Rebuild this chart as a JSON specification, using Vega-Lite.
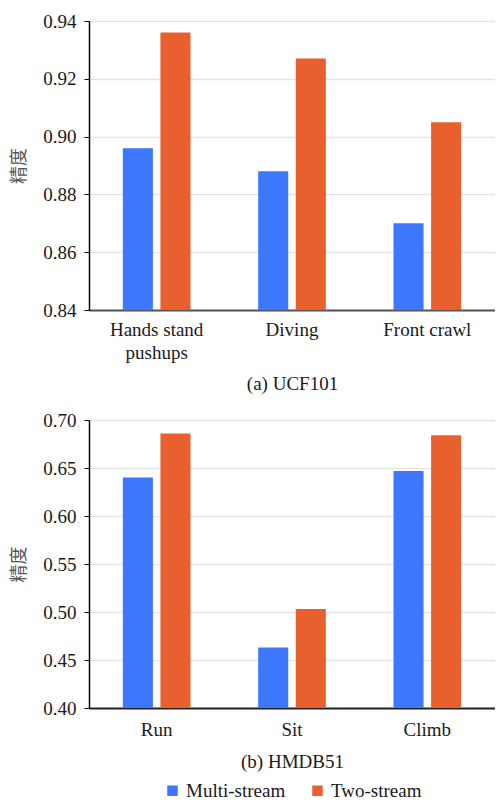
{
  "$schema": "https://vega.github.io/schema/vega-lite/v6.json",
  "padding": {"left": 10, "top": 12, "right": 0, "bottom": 2},
  "datasets": {
    "ucf": [
      {"action": "Hands stand pushups", "method": "Multi-stream", "accuracy": 0.896},
      {"action": "Hands stand pushups", "method": "Two-stream", "accuracy": 0.936},
      {"action": "Diving", "method": "Multi-stream", "accuracy": 0.888},
      {"action": "Diving", "method": "Two-stream", "accuracy": 0.927},
      {"action": "Front crawl", "method": "Multi-stream", "accuracy": 0.870},
      {"action": "Front crawl", "method": "Two-stream", "accuracy": 0.905}
    ],
    "hmdb": [
      {"action": "Run", "method": "Multi-stream", "accuracy": 0.640},
      {"action": "Run", "method": "Two-stream", "accuracy": 0.686},
      {"action": "Sit", "method": "Multi-stream", "accuracy": 0.463},
      {"action": "Sit", "method": "Two-stream", "accuracy": 0.503},
      {"action": "Climb", "method": "Multi-stream", "accuracy": 0.647},
      {"action": "Climb", "method": "Two-stream", "accuracy": 0.684}
    ]
  },
  "config": {
    "view": {"stroke": null},
    "font": "Liberation Serif, Times New Roman, serif",
    "axis": {
      "labelFont": "Liberation Serif, Times New Roman, serif",
      "labelFontSize": 19,
      "labelColor": "#1a1a1a",
      "titleFont": "Liberation Serif, Times New Roman, serif",
      "titleFontSize": 19,
      "titleColor": "#1a1a1a",
      "titleFontWeight": "normal"
    },
    "legend": {
      "layout": {"bottom": {"anchor": "middle"}},
      "labelFont": "Liberation Serif, Times New Roman, serif"
    }
  },
  "spacing": 18,
  "resolve": {"scale": {"color": "shared"}},
  "vconcat": [
    {
      "width": 406,
      "height": 289,
      "data": {"name": "ucf"},
      "mark": {"type": "bar"},
      "encoding": {
        "x": {
          "field": "action",
          "type": "nominal",
          "sort": ["Hands stand pushups", "Diving", "Front crawl"],
          "scale": {"paddingInner": 0.5, "paddingOuter": 0.25},
          "axis": {
            "title": "(a) UCF101",
            "labelAngle": 0,
            "ticks": false,
            "grid": false,
            "domainColor": "#555555",
            "domainWidth": 2,
            "labelPadding": 10,
            "labelLineHeight": 23,
            "labelExpr": "datum.value == 'Hands stand pushups' ? ['Hands stand', 'pushups'] : datum.label",
            "titlePadding": 12
          }
        },
        "xOffset": {
          "field": "method",
          "type": "nominal",
          "sort": ["Multi-stream", "Two-stream"],
          "scale": {"paddingInner": 0.2, "paddingOuter": 0}
        },
        "y": {
          "field": "accuracy",
          "type": "quantitative",
          "scale": {"domain": [0.84, 0.94], "nice": false, "zero": false},
          "axis": {
            "title": "精度",
            "titleFont": "Noto Sans CJK SC",
            "titleFontSize": 18,
            "titleColor": "#555555",
            "titlePadding": 14,
            "values": [0.84, 0.86, 0.88, 0.9, 0.92, 0.94],
            "format": ".2f",
            "domainColor": "#000000",
            "domainWidth": 1.5,
            "tickColor": "#000000",
            "tickSize": 5,
            "labelPadding": 8,
            "gridColor": "#dfe6ea",
            "gridWidth": 1.5
          }
        },
        "y2": {"datum": 0.84},
        "color": {
          "field": "method",
          "type": "nominal",
          "scale": {"domain": ["Multi-stream", "Two-stream"], "range": ["#3c77fe", "#e9602f"]},
          "legend": {
            "orient": "bottom",
            "direction": "horizontal",
            "title": null,
            "symbolType": "square",
            "symbolSize": 110,
            "symbolStrokeWidth": 0,
            "labelFont": "Liberation Serif, Times New Roman, serif",
            "labelFontSize": 19,
            "labelColor": "#1a1a1a",
            "columnPadding": 22,
            "offset": 10,
            "encode": {
              "symbols": {
                "update": {
                  "fill": {"signal": "datum.value === 'Multi-stream' ? '#55aaf2' : '#e9612f'"},
                  "opacity": {"value": 1}
                }
              }
            }
          }
        }
      }
    },
    {
      "width": 406,
      "height": 288,
      "data": {"name": "hmdb"},
      "mark": {"type": "bar"},
      "encoding": {
        "x": {
          "field": "action",
          "type": "nominal",
          "sort": ["Run", "Sit", "Climb"],
          "scale": {"paddingInner": 0.5, "paddingOuter": 0.25},
          "axis": {
            "title": "(b) HMDB51",
            "labelAngle": 0,
            "ticks": false,
            "grid": false,
            "domainColor": "#222222",
            "domainWidth": 2,
            "labelPadding": 12,
            "titlePadding": 13
          }
        },
        "xOffset": {
          "field": "method",
          "type": "nominal",
          "sort": ["Multi-stream", "Two-stream"],
          "scale": {"paddingInner": 0.2, "paddingOuter": 0}
        },
        "y": {
          "field": "accuracy",
          "type": "quantitative",
          "scale": {"domain": [0.4, 0.7], "nice": false, "zero": false},
          "axis": {
            "title": "精度",
            "titleFont": "Noto Sans CJK SC",
            "titleFontSize": 18,
            "titleColor": "#555555",
            "titlePadding": 14,
            "values": [0.4, 0.45, 0.5, 0.55, 0.6, 0.65, 0.7],
            "format": ".2f",
            "domainColor": "#000000",
            "domainWidth": 1.5,
            "tickColor": "#000000",
            "tickSize": 5,
            "labelPadding": 8,
            "gridColor": "#dfe6ea",
            "gridWidth": 1.5
          }
        },
        "y2": {"datum": 0.4},
        "color": {
          "field": "method",
          "type": "nominal",
          "scale": {"domain": ["Multi-stream", "Two-stream"], "range": ["#3c77fe", "#e9602f"]}
        }
      }
    }
  ]
}
